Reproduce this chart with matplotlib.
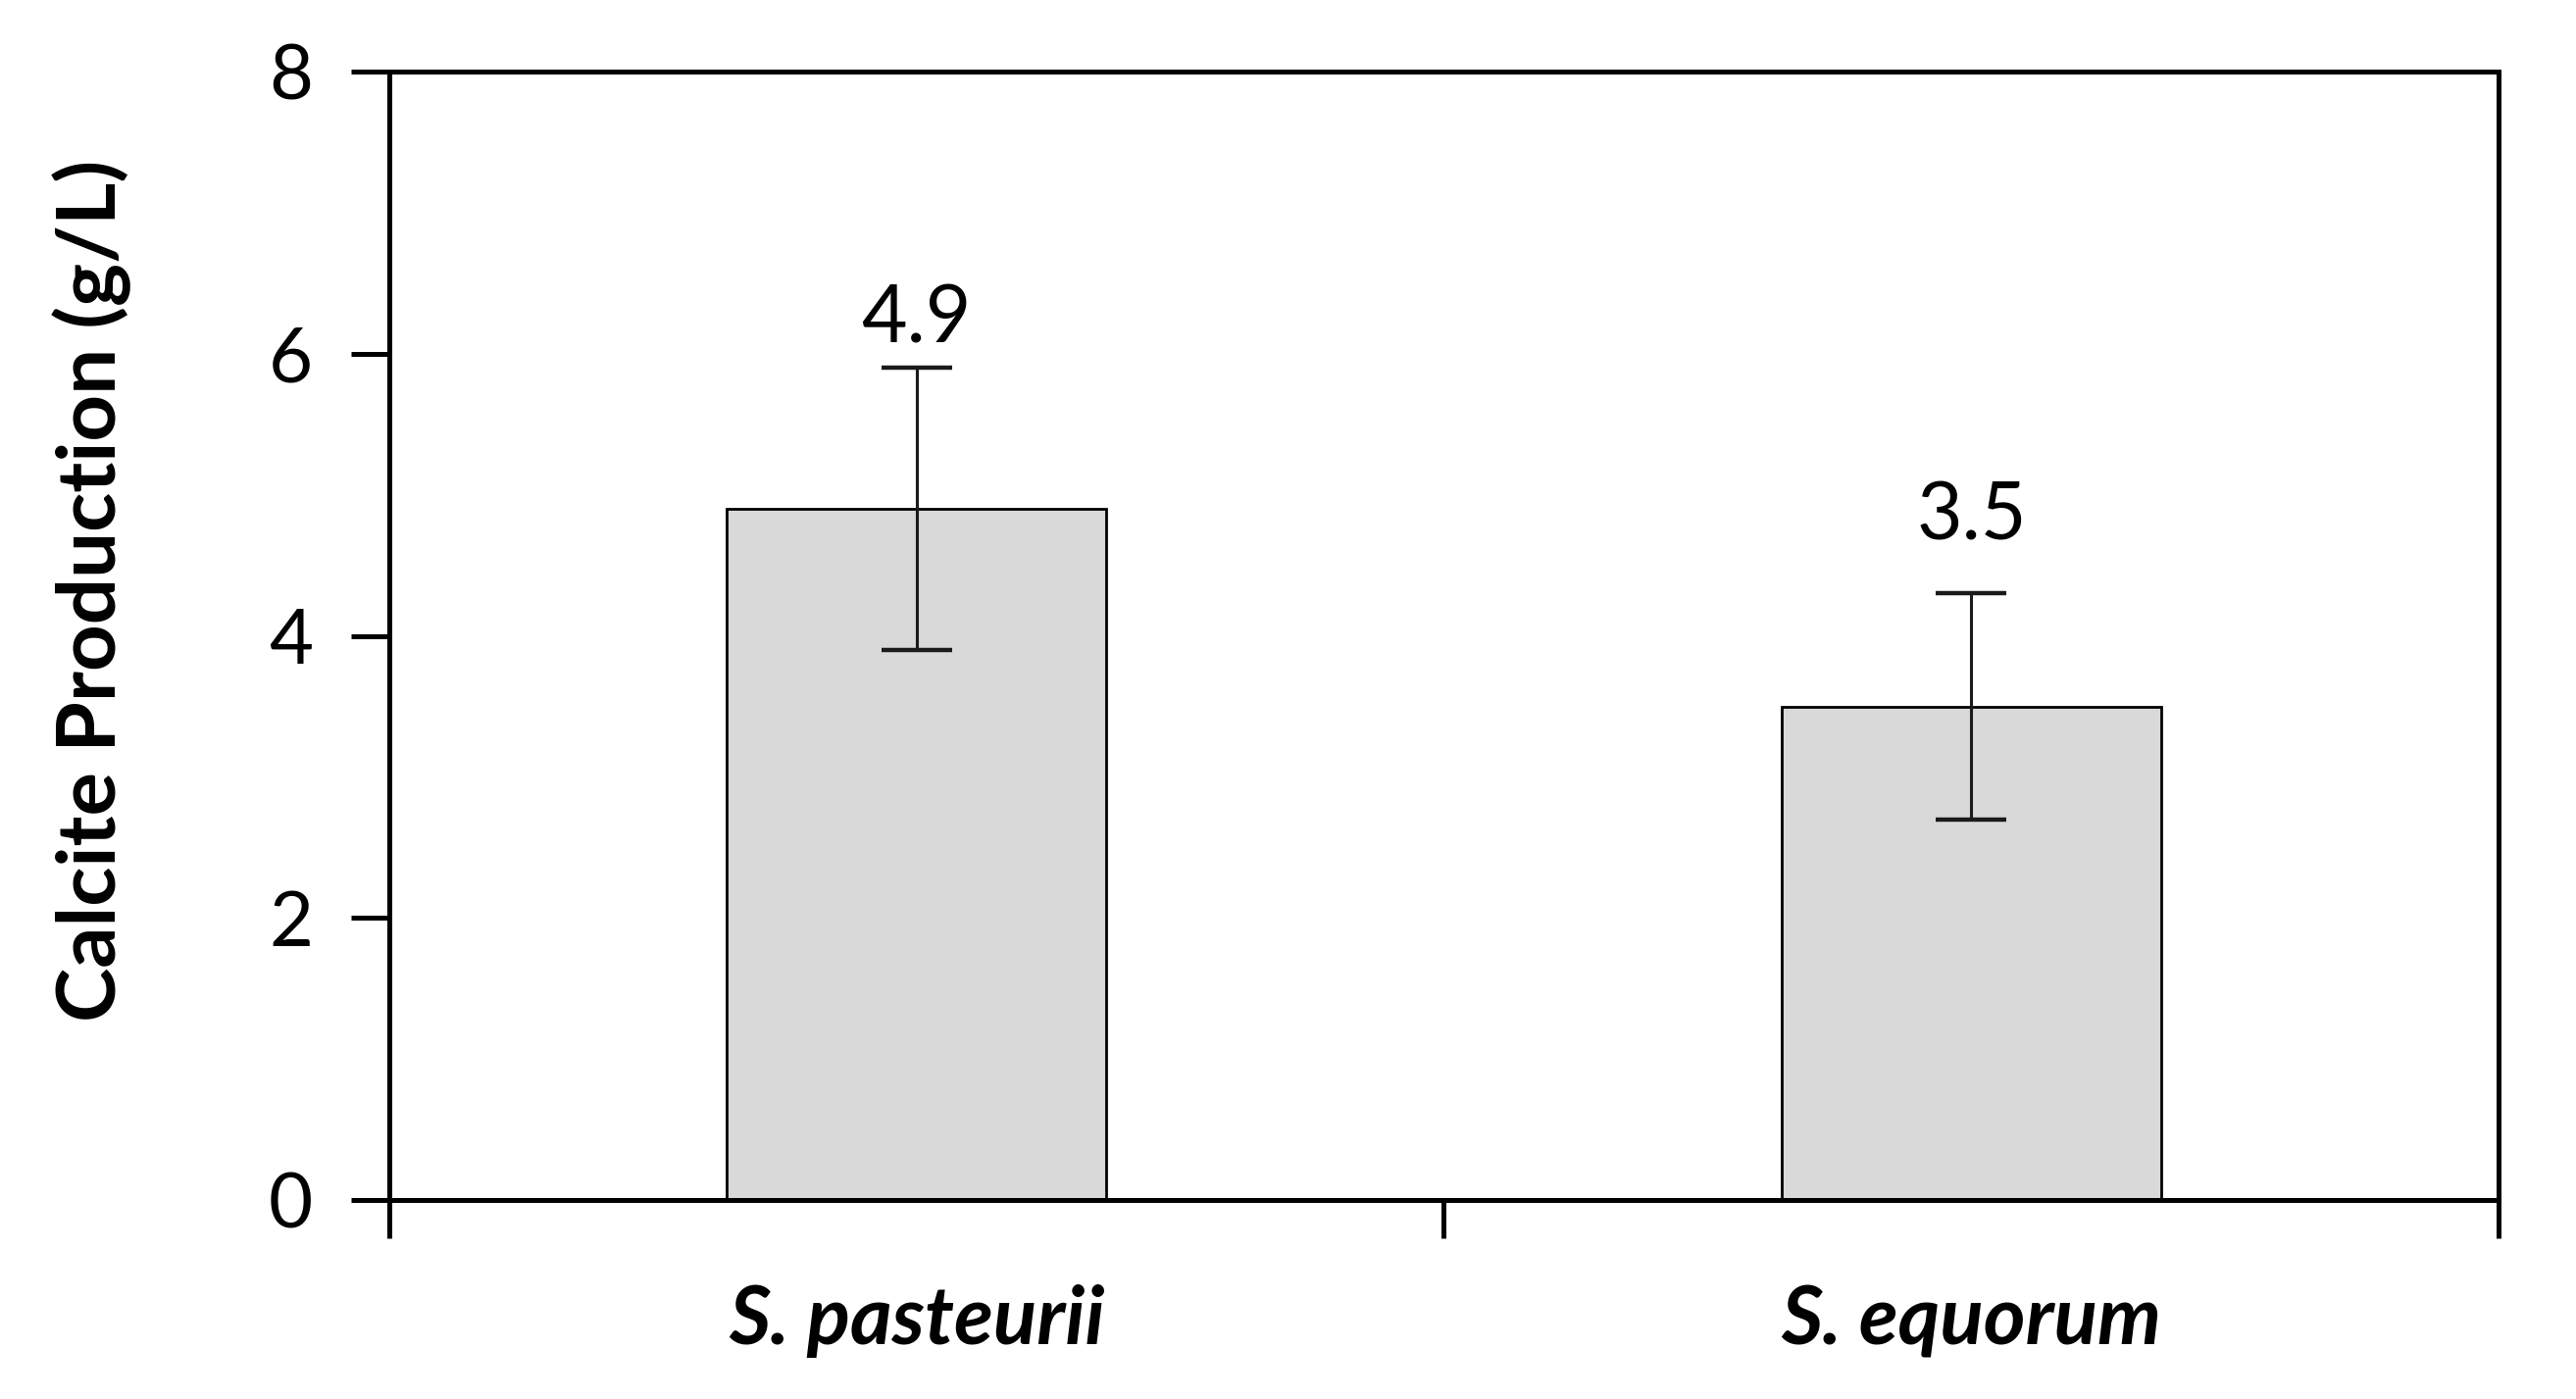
import matplotlib.pyplot as plt
import numpy as np

strains = ["S. pasteurii", "S. equorum"]
calcite = [4.9, 3.5]
calcite_err = [1.0, 0.8]
value_labels = ["4.9", "3.5"]

plt.rcParams['font.family'] = ['Lato', 'DejaVu Sans']

fig = plt.figure(figsize=(13.135, 7.135), dpi=200)
ax = fig.add_axes([0.151, 0.142, 0.819, 0.807])

x = np.arange(len(strains))
ax.bar(x, calcite, width=0.36, color='#d9d9d9', edgecolor='black', linewidth=1.0,
       yerr=calcite_err, capsize=13,
       error_kw=dict(elinewidth=1.1, capthick=1.6, ecolor='#1a1a1a'))

for xi, v, lab in zip(x, calcite, value_labels):
    ax.annotate(lab, (xi, v), xytext=(0, 56), textcoords='offset points',
                ha='center', va='bottom', fontsize=29)

ax.set_xlim(-0.5, 1.5)
ax.set_ylim(0, 8)
ax.set_yticks([0, 2, 4, 6, 8])
ax.tick_params(axis='y', labelsize=28, length=14, width=1.8, pad=14, direction='out')

# category boundaries get the tick marks, names sit at bar centres
ax.set_xticks([-0.5, 0.5, 1.5])
ax.set_xticklabels([])
ax.tick_params(axis='x', which='major', length=14, width=1.8, direction='out')
ax.set_xticks(x, minor=True)
ax.set_xticklabels(strains, minor=True, fontsize=29.5, fontweight='bold', fontstyle='italic')
ax.tick_params(axis='x', which='minor', length=0, pad=31)

for s in ax.spines.values():
    s.set_linewidth(1.8)

ax.set_ylabel("Calcite Production (g/L)", fontsize=30, fontweight='bold')
ax.yaxis.set_label_coords(-0.122, 0.54)

fig.savefig("out.png", dpi=200)
